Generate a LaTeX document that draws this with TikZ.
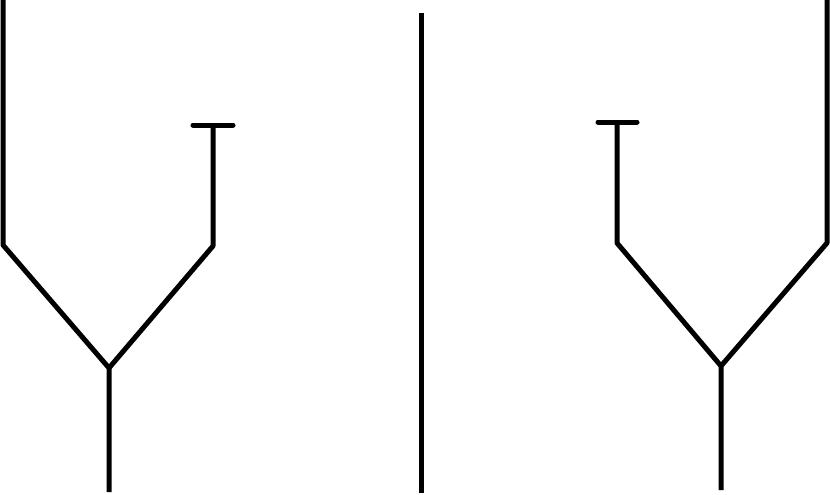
\documentclass[tikz,border=0pt]{standalone}
\begin{document}
\begin{tikzpicture}[
       x=1pt,y=-1pt,
       line width=5pt,
       stem/.style={line join=round},
       tee/.style={line cap=round}
     ]

       \useasboundingbox (0,0) rectangle (830,495);

       % left fork
       \coordinate (l1) at (3,0);
       \coordinate (l2) at (3,245);
       \coordinate (l3) at (109,368);
       \coordinate (l4) at (109,492);
       \coordinate (l5) at (213,246);
       \coordinate (l6) at (213,125);
       \coordinate (t1) at (193,125);
       \coordinate (t2) at (233,125);

       % divider
       \coordinate (m1) at (421,13);
       \coordinate (m2) at (421,493);

       % right fork
       \coordinate (r1) at (827,0);
       \coordinate (r2) at (827,243);
       \coordinate (r3) at (721,366);
       \coordinate (r4) at (721,490);
       \coordinate (r5) at (617,243);
       \coordinate (r6) at (617,122);
       \coordinate (t3) at (598,122);
       \coordinate (t4) at (637,122);

       \draw[stem] (l1) -- (l2) -- (l3) -- (l4);
       \draw[stem] (l3) -- (l5) -- (l6);
       \draw[tee] (t1) -- (t2);

       \draw (m1) -- (m2);

       \draw[stem] (r1) -- (r2) -- (r3) -- (r4);
       \draw[stem] (r3) -- (r5) -- (r6);
       \draw[tee] (t3) -- (t4);

\end{tikzpicture}
\end{document}
